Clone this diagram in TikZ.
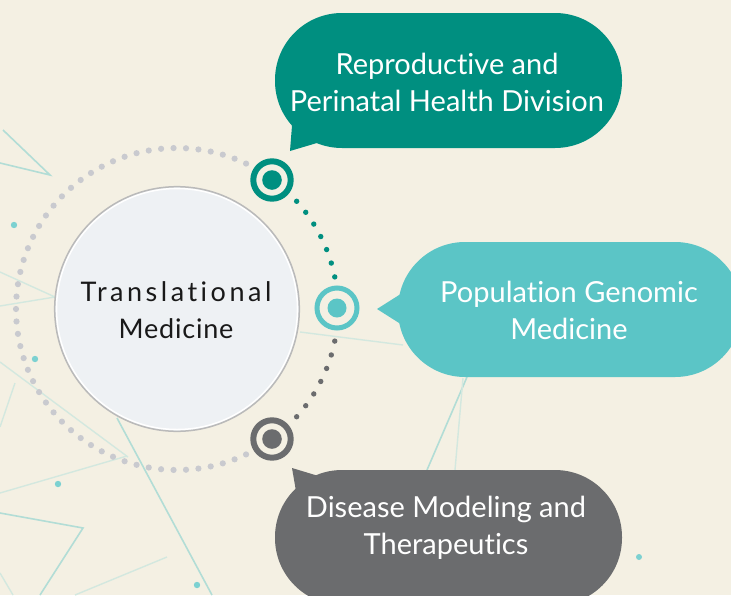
\documentclass[tikz,border=0pt]{standalone}
\usepackage{fontspec}
\setmainfont{Lato}[Ligatures={NoCommon,NoRare}]
\definecolor{bg}{HTML}{F4F0E3}
\definecolor{tealA}{HTML}{008F80}
\definecolor{tealB}{HTML}{5BC5C6}
\definecolor{grayA}{HTML}{6B6C6E}
\definecolor{dotgray}{HTML}{C9CACF}
\definecolor{bgline}{HTML}{B2DDD6}
\definecolor{bgfaint}{HTML}{D3E8DF}
\definecolor{circfill}{HTML}{EEF1F4}
\begin{document}
\begin{tikzpicture}[x=1pt,y=-1pt,
  bubtext/.style={text=white, align=center, inner sep=0pt, font=\fontsize{29}{37}\selectfont},
  ringmark/.style={circle, draw=#1, line width=6pt, fill=bg, minimum size=37.4pt, inner sep=0pt},
  deco/.style={draw=bgline, line width=1.6pt},
  decofaint/.style={draw=bgfaint, line width=1.4pt},
  bgdot/.style={fill=tealB!80!white}]
\useasboundingbox (0,0) rectangle (731,595);
\fill[bg] (0,0) rectangle (731,595);
\begin{scope}
\clip (0,0) rectangle (731,595);
% background decoration
\draw[deco] (0,163) -- (50,175) -- (3,130);
\draw[decofaint] (0,272) -- (55,297) -- (0,306);
\draw[decofaint] (0,362) -- (128,457);
\draw[decofaint] (0,493) -- (127,456);
\draw[deco] (117,418) -- (212,595);
\draw[deco] (0,513) -- (83,528) -- (40,595);
\draw[decofaint] (0,573) -- (13,595);
\draw[decofaint] (167,557) -- (75,595);
\draw[decofaint] (15,383) -- (0,427);
\draw[decofaint] (300,332) -- (403,345);
\draw[deco] (467,377) -- (427,470);
\draw[decofaint] (463,378) -- (455,470);
\fill[bgdot] (14,225) circle (3.2);
\fill[bgdot] (35,359) circle (3.2);
\fill[bgdot] (58,484) circle (3.2);
\fill[bgdot] (197,585) circle (3.2);
\fill[bgdot] (639,557) circle (3);
% dotted ring
\coordinate (c) at (177,309);
\begin{scope}[shift={(177,309)}]
\foreach \i in {0,...,52} {
  \pgfmathsetmacro\ang{-64.6-\i*230.8/52}
  \fill[dotgray] (\ang:161) circle (3.1);
}
\foreach \i in {0,...,6} {
  \pgfmathsetmacro\ang{-42+\i*30.5/6}
  \fill[tealA] (\ang:161) circle (2.7);
  \pgfmathsetmacro\angb{11.5+\i*30.5/6}
  \fill[grayA] (\angb:161) circle (2.7);
}
\end{scope}
% central circle
\fill[circfill] (177,309) circle (122);
\draw[white, line width=1.5pt] (177,309) circle (120.5);
\draw[black!27, line width=1.5pt] (177,309) circle (122.3);
\node[align=center, inner sep=0pt, text=black!90,
  font=\fontsize{27}{37}\selectfont] (tm) at (176,310)
  {{\addfontfeature{LetterSpace=13}Translational}\\{\addfontfeature{LetterSpace=3}Medicine}};
% markers
\node[ringmark=tealA] (m1) at (272,180) {};
\fill[tealA] (m1) circle (9.8);
\node[ringmark=tealB, line width=5pt, minimum size=40pt] (m2) at (337,308) {};
\fill[tealB] (m2) circle (9.5);
\node[ringmark=grayA] (m3) at (272,439) {};
\fill[grayA] (m3) circle (9.8);
% bubbles
\fill[tealA, rounded corners=67pt] (275,13) rectangle (622,148);
\fill[tealA] (290,151) -- (293,113) -- (327,140) -- cycle;
\node[bubtext] (b1) at (447,82) {Reproductive and\\Perinatal Health Division};
\fill[tealB, rounded corners=67pt] (398,242) rectangle (742,377);
\fill[tealB] (377,309) -- (407,290) -- (407,328) -- cycle;
\node[bubtext] (b2) at (569,310) {Population Genomic\\Medicine};
\fill[grayA, rounded corners=67pt] (275,470) rectangle (622,605);
\fill[grayA] (292,468) -- (297,497) -- (325,478) -- cycle;
\node[bubtext] (b3) at (446,528) {Disease Modeling and\\Therapeutics};
\end{scope}
\end{tikzpicture}
\end{document}
